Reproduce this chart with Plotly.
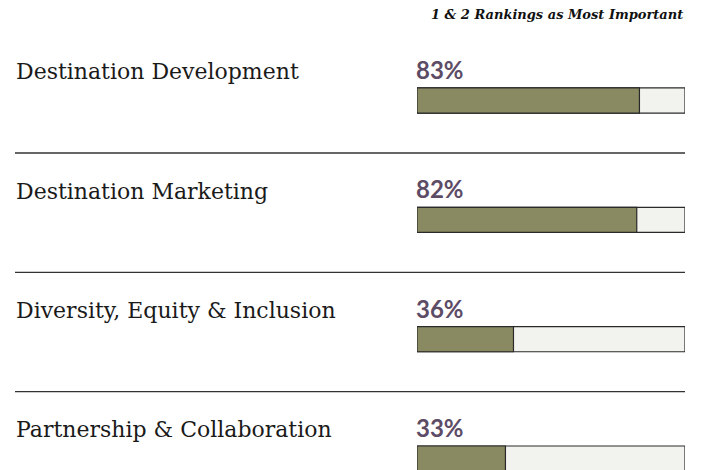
import plotly.graph_objects as go

categories = ['Destination Development', 'Destination Marketing',
              'Diversity, Equity & Inclusion', 'Partnership & Collaboration']
values = [83, 82, 36, 33]
title_text = '1 & 2 Rankings as Most Important'

# the page body adds an 8px margin, so the figure is drawn 8px smaller
W, H = 695, 462
rows = list(range(len(categories)))
fill_col = '#8a8a62'
empty_col = '#f2f2ee'
label_col = '#5d4c66'
serif = 'DejaVu Serif'

fig = go.Figure()
fig.add_trace(go.Bar(y=rows, x=[100] * len(rows), orientation='h', width=0.21,
                     marker=dict(color=empty_col, line=dict(color='#2a2a2a', width=1.2)),
                     hoverinfo='skip'))
fig.add_trace(go.Bar(y=rows, x=values, orientation='h', width=0.21,
                     marker=dict(color=fill_col, line=dict(color='#2a2a2a', width=1.2)),
                     hoverinfo='skip'))

for r, cat, v in zip(rows, categories, values):
    fig.add_annotation(x=6 / W, xref='paper', y=r - 0.24, yref='y', text=cat,
                       showarrow=False, xanchor='left', yanchor='middle',
                       font=dict(family=serif, size=22, color='#1a1a1a'))
    fig.add_annotation(x=0, xref='x', y=r - 0.26, yref='y', text=f'{v}%',
                       showarrow=False, xanchor='left', yanchor='middle', xshift=-3,
                       font=dict(family='Lato', size=24, color=label_col, weight='bold'))
    if r < len(rows) - 1:
        fig.add_shape(type='line', xref='paper', x0=7 / W, x1=677 / W,
                      yref='y', y0=r + 0.44, y1=r + 0.44,
                      line=dict(color='#333333', width=1.3))

fig.add_annotation(x=677 / W, xref='paper', y=1 - 7 / H, yref='paper', yanchor='middle',
                   text=title_text, showarrow=False, xanchor='right',
                   font=dict(family='DejaVu Serif', size=13, color='#111111',
                             style='italic', weight='bold'))

fig.update_layout(
    width=W, height=H, margin=dict(l=0, r=0, t=0, b=0),
    paper_bgcolor='white', plot_bgcolor='white',
    barmode='overlay', showlegend=False,
    xaxis=dict(domain=[409 / W, 677 / W], range=[0, 100], visible=False, fixedrange=True),
    yaxis=dict(domain=[0, 1], range=[3.096, -0.775], visible=False, fixedrange=True),
)
fig.write_html('out.html')
